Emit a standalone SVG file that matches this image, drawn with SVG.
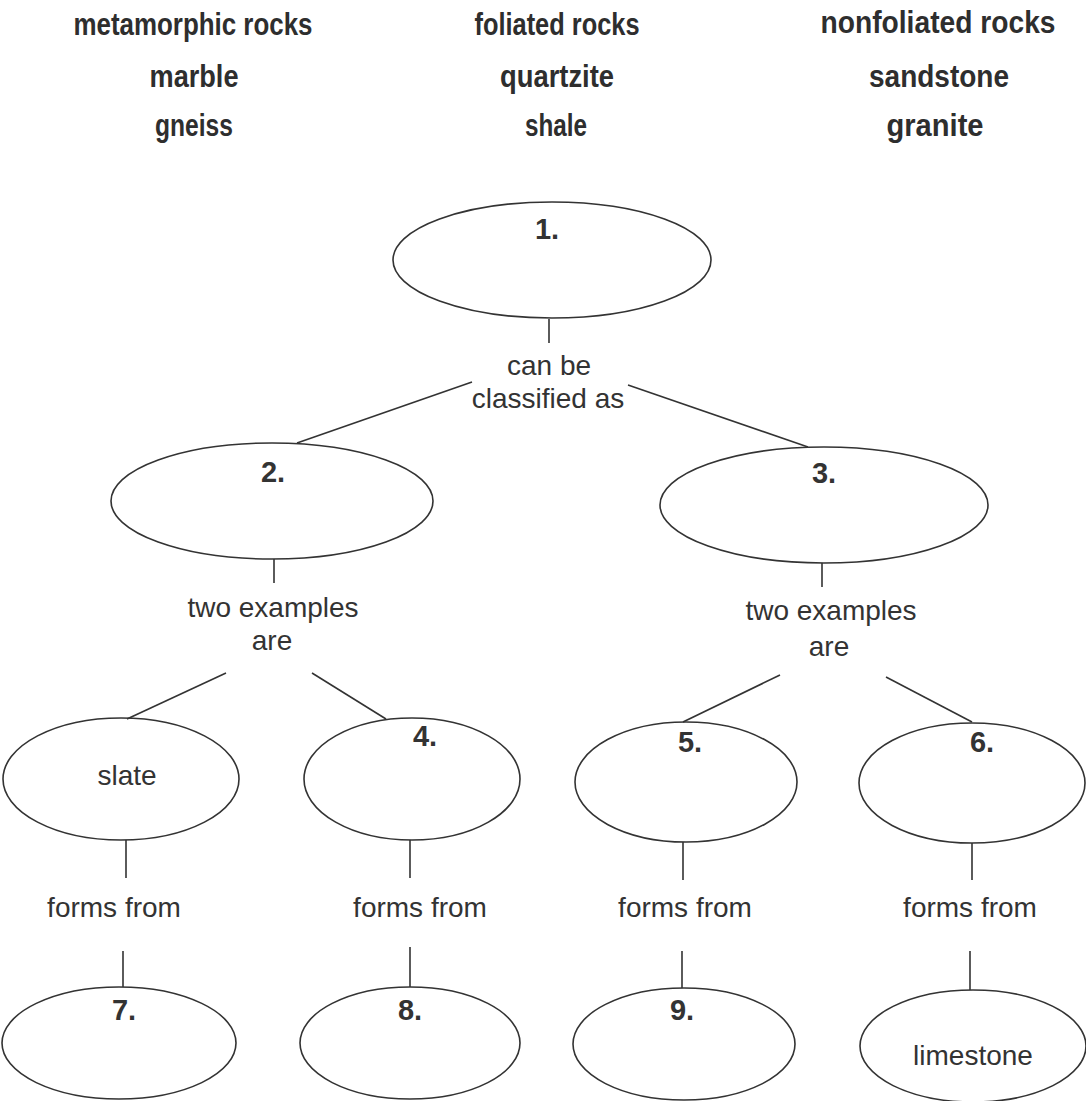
<svg xmlns="http://www.w3.org/2000/svg" width="1086" height="1101" viewBox="0 0 1086 1101">
<style>
.bank{font-family:"Liberation Sans",Arial,sans-serif;font-weight:bold;font-size:31px;fill:#2e2e2e;text-anchor:middle}
.lbl{font-family:"Liberation Sans",Arial,sans-serif;font-size:28px;fill:#333;text-anchor:middle}
.num{font-family:"Liberation Sans",Arial,sans-serif;font-weight:bold;font-size:29px;fill:#333;text-anchor:middle}
.node ellipse{fill:none;stroke:#333;stroke-width:1.6}
.conn line{stroke:#333;stroke-width:1.6}
</style>
<rect width="1086" height="1101" fill="#fff"/>
<g id="wordbank">
<text class="bank" x="193" y="35" textLength="239" lengthAdjust="spacingAndGlyphs">metamorphic rocks</text>
<text class="bank" x="194" y="87" textLength="89" lengthAdjust="spacingAndGlyphs">marble</text>
<text class="bank" x="194" y="136" textLength="78" lengthAdjust="spacingAndGlyphs">gneiss</text>
<text class="bank" x="557" y="35" textLength="165" lengthAdjust="spacingAndGlyphs">foliated rocks</text>
<text class="bank" x="557" y="87" textLength="114" lengthAdjust="spacingAndGlyphs">quartzite</text>
<text class="bank" x="556" y="136" textLength="62" lengthAdjust="spacingAndGlyphs">shale</text>
<text class="bank" x="938" y="33" textLength="235" lengthAdjust="spacingAndGlyphs">nonfoliated rocks</text>
<text class="bank" x="939" y="87" textLength="140" lengthAdjust="spacingAndGlyphs">sandstone</text>
<text class="bank" x="935" y="136" textLength="97" lengthAdjust="spacingAndGlyphs">granite</text>
</g>
<g id="connectors" class="conn">
<line x1="549" y1="319" x2="549" y2="343"/>
<line x1="472" y1="382" x2="297" y2="443"/>
<line x1="628" y1="385" x2="808" y2="447"/>
<line x1="274" y1="559" x2="274" y2="583"/>
<line x1="822" y1="563" x2="822" y2="587"/>
<line x1="226" y1="673" x2="127" y2="719"/>
<line x1="312" y1="673" x2="386" y2="719"/>
<line x1="780" y1="675" x2="683" y2="722"/>
<line x1="886" y1="677" x2="972" y2="722"/>
<line x1="126" y1="840" x2="126" y2="878"/>
<line x1="410" y1="840" x2="410" y2="878"/>
<line x1="683" y1="842" x2="683" y2="880"/>
<line x1="972" y1="843" x2="972" y2="880"/>
<line x1="123" y1="951" x2="123" y2="987"/>
<line x1="410" y1="947" x2="410" y2="987"/>
<line x1="682" y1="951" x2="682" y2="988"/>
<line x1="970" y1="951" x2="970" y2="990"/>
</g>
<g id="link-labels">
<text class="lbl" x="549" y="375">can be</text>
<text class="lbl" x="548" y="408">classified as</text>
<text class="lbl" x="273" y="617">two examples</text>
<text class="lbl" x="272" y="650">are</text>
<text class="lbl" x="831" y="620">two examples</text>
<text class="lbl" x="829" y="656">are</text>
<text class="lbl" x="114" y="917">forms from</text>
<text class="lbl" x="420" y="917">forms from</text>
<text class="lbl" x="685" y="917">forms from</text>
<text class="lbl" x="970" y="917">forms from</text>
</g>
<g id="node1" class="node"><ellipse cx="552" cy="260" rx="159" ry="58"/><text class="num" x="547" y="239">1.</text></g>
<g id="node2" class="node"><ellipse cx="272" cy="501" rx="161" ry="58"/><text class="num" x="273" y="482">2.</text></g>
<g id="node3" class="node"><ellipse cx="824" cy="505" rx="164" ry="58"/><text class="num" x="824" y="483">3.</text></g>
<g id="node-slate" class="node"><ellipse cx="121" cy="779" rx="118" ry="61"/><text class="lbl" x="127" y="785">slate</text></g>
<g id="node4" class="node"><ellipse cx="412" cy="779" rx="108" ry="61"/><text class="num" x="425" y="746">4.</text></g>
<g id="node5" class="node"><ellipse cx="686" cy="782" rx="111" ry="60"/><text class="num" x="690" y="752">5.</text></g>
<g id="node6" class="node"><ellipse cx="972" cy="783" rx="113" ry="60"/><text class="num" x="982" y="752">6.</text></g>
<g id="node7" class="node"><ellipse cx="119" cy="1043" rx="117" ry="56"/><text class="num" x="124" y="1020">7.</text></g>
<g id="node8" class="node"><ellipse cx="410" cy="1043" rx="110" ry="56"/><text class="num" x="410" y="1020">8.</text></g>
<g id="node9" class="node"><ellipse cx="684" cy="1044" rx="111" ry="56"/><text class="num" x="682" y="1020">9.</text></g>
<g id="node-limestone" class="node"><ellipse cx="973" cy="1046" rx="113" ry="56"/><text class="lbl" x="973" y="1065">limestone</text></g>
</svg>
